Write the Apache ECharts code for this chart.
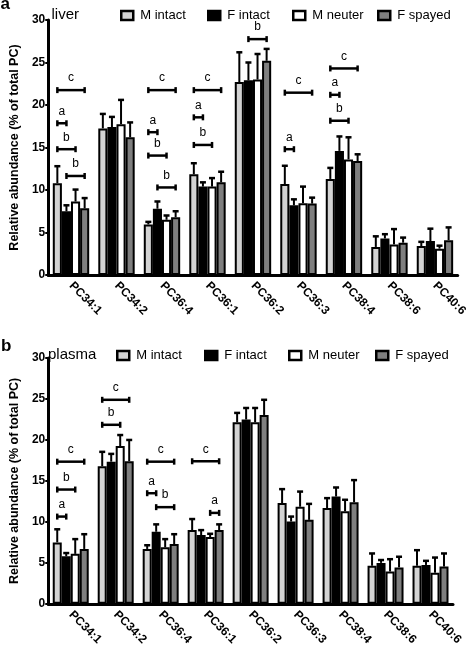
<!DOCTYPE html>
<html><head><meta charset="utf-8">
<script src="https://cdn.jsdelivr.net/npm/echarts/dist/echarts.min.js"></script>
<style>html,body{margin:0;padding:0;background:#fff}#c{width:469px;height:648px}</style>
</head><body><div id="c"></div>
<script>
// ---------- data ----------
const categories = ['PC34:1','PC34:2','PC36:4','PC36:1','PC36:2','PC36:3','PC38:4','PC38:6','PC40:6'];
const groups = ['M intact','F intact','M neuter','F spayed'];
const groupColors = ['#d3d3d3','#000000','#ffffff','#7f7f7f'];
const panelTitles = ['liver','plasma'];
const panelLetters = ['a','b'];
const yAxisTitle = 'Relative abundance (% of total PC)';
const yMin = 0, yMax = 30, yStep = 5;

// liver: means and upper error (SEM)
const liverMIntact     = [10.8, 17.25, 5.95, 11.85, 22.7, 10.7, 11.3, 3.3, 3.4];
const liverMIntactErr  = [2.0, 1.7, 0.3, 1.3, 3.5, 2.15, 1.3, 1.25, 0.5];
const liverFIntact     = [7.5, 17.4, 7.8, 10.4, 22.9, 8.2, 14.6, 4.3, 4.0];
const liverFIntactErr  = [0.7, 1.2, 0.85, 0.5, 2.1, 0.7, 1.7, 0.5, 1.45];
const liverMNeuter     = [8.65, 17.75, 6.5, 10.4, 23.0, 8.45, 13.6, 3.6, 3.1];
const liverMNeuterErr  = [1.4, 2.85, 0.5, 1.0, 3.0, 1.95, 2.6, 1.8, 0.35];
const liverFSpayed     = [7.85, 16.2, 6.8, 10.9, 25.2, 8.4, 13.4, 3.8, 4.1];
const liverFSpayedErr  = [1.2, 1.75, 0.7, 1.25, 1.4, 0.7, 0.8, 0.6, 1.5];

// plasma: means and upper error (SEM)
const plasmaMIntact    = [7.5, 16.8, 6.7, 9.0, 22.15, 12.3, 11.7, 4.65, 4.65];
const plasmaMIntactErr = [1.6, 1.75, 0.45, 1.35, 1.15, 1.7, 1.2, 1.5, 1.9];
const plasmaFIntact    = [5.8, 17.35, 8.8, 8.4, 22.5, 10.05, 13.1, 5.0, 4.75];
const plasmaFIntactErr = [0.4, 0.95, 0.9, 0.6, 1.4, 0.6, 1.1, 0.35, 0.5];
const plasmaMNeuter    = [6.1, 19.25, 6.9, 8.15, 22.15, 11.85, 11.3, 3.95, 3.8];
const plasmaMNeuterErr = [1.8, 1.35, 1.0, 0.4, 1.75, 1.85, 1.4, 1.5, 1.85];
const plasmaFSpayed    = [6.7, 17.4, 7.3, 9.0, 23.05, 10.25, 12.4, 4.45, 4.55];
const plasmaFSpayedErr = [1.8, 2.6, 1.2, 0.7, 1.85, 1.95, 2.7, 1.3, 1.6];

// significance brackets: [category index, from group, to group, y value, letter]
const liverBrackets = [
  [0,0,3,21.75,'c'],[0,0,1,17.85,'a'],[0,0,2,14.8,'b'],[0,1,3,11.65,'b'],
  [2,0,3,21.75,'c'],[2,0,1,16.8,'a'],[2,0,2,14.05,'b'],[2,1,3,10.3,'b'],
  [3,0,3,21.75,'c'],[3,0,1,18.55,'a'],[3,0,2,15.3,'b'],
  [4,1,3,27.75,'b'],
  [5,0,3,21.45,'c'],[5,0,1,14.8,'a'],
  [6,0,3,24.3,'c'],[6,0,1,21.2,'a'],[6,0,2,18.15,'b']
];
const plasmaBrackets = [
  [0,0,3,17.35,'c'],[0,0,2,13.95,'b'],[0,0,1,10.65,'a'],
  [1,0,3,24.9,'c'],[1,0,2,21.85,'b'],
  [2,0,3,17.35,'c'],[2,0,1,13.5,'a'],[2,1,3,11.8,'b'],
  [3,0,3,17.4,'c'],[3,2,3,11.1,'a']
];

// ---------- build ----------
const FONT = '"Liberation Sans", Arial, Helvetica, sans-serif';
const panels = [
  { means:[liverMIntact,liverFIntact,liverMNeuter,liverFSpayed],
    errs:[liverMIntactErr,liverFIntactErr,liverMNeuterErr,liverFSpayedErr],
    brackets: liverBrackets,
    grid:{left:35, top:20, width:429, height:255},
    legendLefts:[120,207,292,377], legendTop:9,
    titlePos:[51.5, 15.3], letterPos:[0.5, 4.2] },
  { means:[plasmaMIntact,plasmaFIntact,plasmaMNeuter,plasmaFSpayed],
    errs:[plasmaMIntactErr,plasmaFIntactErr,plasmaMNeuterErr,plasmaFSpayedErr],
    brackets: plasmaBrackets,
    grid:{left:36, top:358, width:417, height:248},
    legendLefts:[116,204,288,375], legendTop:349,
    titlePos:[48, 354.8], letterPos:[1, 346.4] }
];
const CAT_GAP = 0.2;
function barCenter(api, cat, s, val){
  const p = api.coord([cat, val]);
  const band = api.size([1,0])[0];
  const grp = band*(1-CAT_GAP);
  const bw = grp/groups.length;
  return [p[0] - grp/2 + (s+0.5)*bw, p[1]];
}

const grids=[], xAxes=[], yAxes=[], series=[], legends=[], graphics=[];
panels.forEach((P, pi) => {
  grids.push(Object.assign({containLabel:false}, P.grid));
  xAxes.push({type:'category', gridIndex:pi, data:categories,
    axisLine:{lineStyle:{color:'#000', width:3}},
    axisTick:{alignWithLabel:true, length:4, lineStyle:{color:'#000', width:2}},
    axisLabel:{interval:0, rotate:-45, fontSize:12, fontWeight:'bold', color:'#000', fontFamily:FONT, margin:9}
  });
  yAxes.push({type:'value', gridIndex:pi, min:yMin, max:yMax, interval:yStep,
    splitLine:{show:false},
    axisLine:{show:true, lineStyle:{color:'#000', width:3}},
    axisTick:{show:true, length:3, lineStyle:{color:'#000', width:2}},
    axisLabel:{fontSize:12, fontWeight:'bold', color:'#000', fontFamily:FONT, margin:3},
    name:yAxisTitle, nameLocation:'middle', nameGap:22,
    nameTextStyle:{fontSize:12.5, fontWeight:'bold', color:'#000', fontFamily:FONT}
  });
  groups.forEach((g, s) => {
    series.push({name:g, type:'bar', xAxisIndex:pi, yAxisIndex:pi, data:P.means[s],
      barGap:'0%', barCategoryGap:(CAT_GAP*100)+'%',
      itemStyle:{color:groupColors[s], borderColor:'#000', borderWidth:2},
      emphasis:{disabled:true}, z:2});
  });
  const errData=[];
  categories.forEach((c, ci) => groups.forEach((g, s) => errData.push([ci, s, P.means[s][ci], P.errs[s][ci]])));
  series.push({type:'custom', xAxisIndex:pi, yAxisIndex:pi, z:3, silent:true,
    data:errData, encode:{x:0, y:2},
    renderItem:(params, api) => {
      const ci=api.value(0), s=api.value(1), m=api.value(2), e=api.value(3);
      const b = barCenter(api, ci, s, m), t = barCenter(api, ci, s, m+e);
      return {type:'group', children:[
        {type:'line', shape:{x1:b[0], y1:b[1], x2:t[0], y2:t[1]}, style:{stroke:'#000', lineWidth:2}},
        {type:'line', shape:{x1:t[0]-3, y1:t[1], x2:t[0]+3, y2:t[1]}, style:{stroke:'#000', lineWidth:2.5}}
      ]};
    }});
  const br = P.brackets;
  series.push({type:'custom', xAxisIndex:pi, yAxisIndex:pi, z:4, silent:true,
    data: br.map(r => [r[0], r[1], r[2], r[3]]), encode:{x:0, y:3},
    renderItem:(params, api) => {
      const r = br[params.dataIndex];
      const a = barCenter(api, r[0], r[1], r[3]), b = barCenter(api, r[0], r[2], r[3]);
      const y = a[1];
      return {type:'group', children:[
        {type:'line', shape:{x1:a[0], y1:y, x2:b[0], y2:y}, style:{stroke:'#000', lineWidth:2.5}},
        {type:'line', shape:{x1:a[0], y1:y-3, x2:a[0], y2:y+3}, style:{stroke:'#000', lineWidth:2.5}},
        {type:'line', shape:{x1:b[0], y1:y-3, x2:b[0], y2:y+3}, style:{stroke:'#000', lineWidth:2.5}},
        {type:'text', style:{x:(a[0]+b[0])/2, y:y-12, text:r[4], fill:'#000', font:'12px '+FONT, align:'center', verticalAlign:'middle'}}
      ]};
    }});
  groups.forEach((g, s) => {
    legends.push({data:[g], left:P.legendLefts[s], top:P.legendTop, padding:0,
      itemWidth:12, itemHeight:9, icon:'rect', selectedMode:false,
      itemStyle:{borderColor:'#000', borderWidth:2.5},
      textStyle:{fontSize:13, color:'#000', fontFamily:FONT, padding:[0,0,0,2]}});
  });
  graphics.push({type:'text', x:P.titlePos[0], y:P.titlePos[1], silent:true,
    style:{text:panelTitles[pi], fill:'#000', font:'15px '+FONT, align:'left', verticalAlign:'middle'}});
  graphics.push({type:'text', x:P.letterPos[0], y:P.letterPos[1], silent:true,
    style:{text:panelLetters[pi], fill:'#000', font:'bold 17px '+FONT, align:'left', verticalAlign:'middle'}});
});

const chart = echarts.init(document.getElementById('c'), null, {renderer:'canvas'});
chart.setOption({
  animation:false, backgroundColor:'#fff',
  textStyle:{fontFamily:FONT},
  legend:legends, grid:grids, xAxis:xAxes, yAxis:yAxes, series:series, graphic:graphics
});
</script></body></html>
